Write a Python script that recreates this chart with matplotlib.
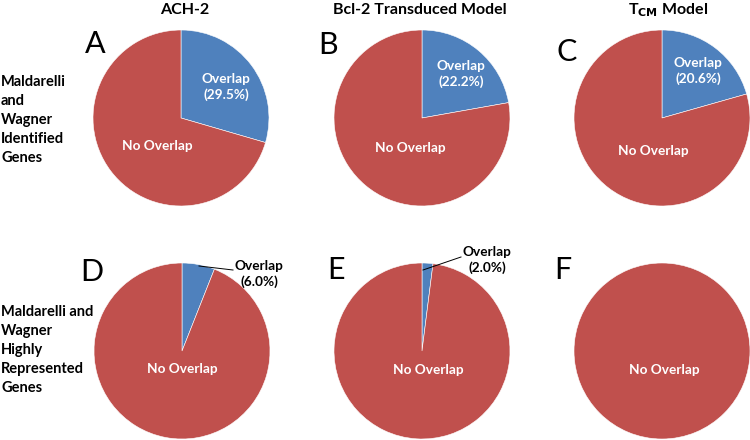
import matplotlib.pyplot as plt

# overlap percentages per panel (rest is "No Overlap")
panels = ["A", "B", "C", "D", "E", "F"]
overlap = [29.5, 22.2, 20.6, 6.0, 2.0, 0.0]
col_titles = ["ACH-2", "Bcl-2 Transduced Model", r"T$_{\mathbf{CM}}$ Model"]
row_labels = ["Maldarelli\nand\nWagner\nIdentified\nGenes",
              "Maldarelli and\nWagner\nHighly\nRepresented\nGenes"]

BLUE = "#4F81BD"
RED = "#C0504D"
W, H = 750, 440

plt.rcParams['font.family'] = ['Lato', 'DejaVu Sans']

fig = plt.figure(figsize=(7.5, 4.4), dpi=100)

def px(x, y):
    # pixel coords -> figure fraction
    return x / W, 1 - y / H

centers = [(181, 118), (422, 118), (662, 118),
           (182, 351), (422, 351), (662, 351)]
R = 88
# label placements in pixels (overlap label, no-overlap label)
ov_pos = [(226, 87), (461, 74), (698, 71), (259, 274), (487, 260), None]
no_pos = [(157, 146), (410, 148), (653, 151), (182, 369), (428, 370), (664, 370)]
inside = [True, True, True, False, False, False]
letter_pos = [(95, 44), (328, 45), (567, 52), (92, 272), (336, 270), (563, 270)]

for i, (cx, cy) in enumerate(centers):
    l, t = px(cx - R, cy - R)
    ax = fig.add_axes([l, t - 2 * R / H, 2 * R / W, 2 * R / H])
    vals = [overlap[i], 100 - overlap[i]]
    ax.pie(vals, colors=[BLUE, RED], startangle=90, counterclock=False,
           wedgeprops=dict(edgecolor="white", linewidth=0.4))
    ax.set_xlim(-1, 1)
    ax.set_ylim(-1, 1)
    ax.set_aspect("equal")
    ax.axis("off")

    nx, ny = px(*no_pos[i])
    fig.text(nx, ny, "No Overlap", color="white", fontsize=9.8, fontweight="bold",
             ha="center", va="center")
    if ov_pos[i] is not None:
        ox, oy = px(*ov_pos[i])
        fig.text(ox, oy, "Overlap\n(%.1f%%)" % overlap[i],
                 color="white" if inside[i] else "black", fontsize=9.8,
                 fontweight="bold", ha="center", va="center", linespacing=1.35)
    lx, ly = px(*letter_pos[i])
    fig.text(lx, ly, panels[i], fontsize=22, ha="center", va="center")

# leader lines for the small slices
for (x0, y0), (x1, y1) in [((199, 266), (233, 270)), ((423, 270), (461, 257))]:
    a, b = px(x0, y0)
    c, d = px(x1, y1)
    fig.add_artist(plt.Line2D([a, c], [b, d], color="black", linewidth=0.7,
                              transform=fig.transFigure))

for x, title in zip([185, 420, 668], col_titles):
    tx, ty = px(x, 10)
    fig.text(tx, ty, title, fontsize=11.5, fontweight="bold", ha="center", va="center")

for y, lab in zip([120, 350], row_labels):
    rx, ry = px(1, y)
    fig.text(rx, ry, lab, fontsize=10.5, fontweight="bold", ha="left", va="center",
             linespacing=1.45)

fig.savefig("out.png", dpi=100)
